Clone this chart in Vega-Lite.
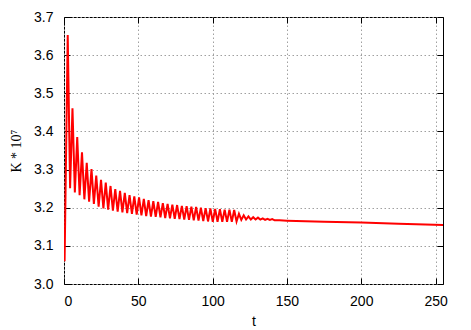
{
  "$schema": "https://vega.github.io/schema/vega-lite/v6.json",
  "autosize": {"type": "none"},
  "padding": {"left": 64, "top": 17, "right": 28, "bottom": 46},
  "width": 379,
  "height": 267,
  "config": {
    "view": {"stroke": "#000000", "strokeWidth": 1},
    "axis": {
      "domain": false,
      "tickColor": "#000000",
      "tickWidth": 1,
      "tickSize": -6,
      "labelFont": "Liberation Sans",
      "labelFontSize": 14,
      "labelColor": "#000000",
      "titleFontWeight": "normal",
      "titleColor": "#000000",
      "gridColor": "#a0a0a0",
      "gridDash": [1.5, 2.5],
      "gridWidth": 1,
      "gridOpacity": 1
    }
  },
  "data": {
    "values": [
      {"t": 0, "K": 3.14}, {"t": 0.4, "K": 3.06},
      {"t": 2.5, "K": 3.653}, {"t": 4.1, "K": 3.251},
      {"t": 5.7, "K": 3.461}, {"t": 7.3, "K": 3.24},
      {"t": 8.9, "K": 3.385}, {"t": 10.5, "K": 3.233},
      {"t": 12.1, "K": 3.345}, {"t": 13.7, "K": 3.222},
      {"t": 15.3, "K": 3.318}, {"t": 16.9, "K": 3.216},
      {"t": 18.5, "K": 3.301}, {"t": 20.1, "K": 3.21},
      {"t": 21.7, "K": 3.284}, {"t": 23.3, "K": 3.203},
      {"t": 24.9, "K": 3.273}, {"t": 26.5, "K": 3.198},
      {"t": 28.1, "K": 3.266}, {"t": 29.7, "K": 3.195},
      {"t": 31.3, "K": 3.257}, {"t": 32.9, "K": 3.192},
      {"t": 34.5, "K": 3.249}, {"t": 36.1, "K": 3.19},
      {"t": 37.7, "K": 3.244}, {"t": 39.3, "K": 3.188},
      {"t": 40.9, "K": 3.239}, {"t": 42.5, "K": 3.186},
      {"t": 44.1, "K": 3.233}, {"t": 45.7, "K": 3.184},
      {"t": 47.3, "K": 3.23}, {"t": 48.9, "K": 3.182},
      {"t": 50.5, "K": 3.227}, {"t": 52.1, "K": 3.18},
      {"t": 53.7, "K": 3.223}, {"t": 55.3, "K": 3.178},
      {"t": 56.9, "K": 3.22}, {"t": 58.5, "K": 3.177},
      {"t": 60.1, "K": 3.217}, {"t": 61.7, "K": 3.176},
      {"t": 63.3, "K": 3.215}, {"t": 64.9, "K": 3.175},
      {"t": 66.5, "K": 3.212}, {"t": 68.1, "K": 3.173},
      {"t": 69.7, "K": 3.21}, {"t": 71.3, "K": 3.172},
      {"t": 72.9, "K": 3.208}, {"t": 74.5, "K": 3.171},
      {"t": 76.1, "K": 3.207}, {"t": 77.7, "K": 3.17},
      {"t": 79.3, "K": 3.205}, {"t": 80.9, "K": 3.169},
      {"t": 82.5, "K": 3.204}, {"t": 84.1, "K": 3.168},
      {"t": 85.7, "K": 3.203}, {"t": 87.3, "K": 3.167},
      {"t": 88.9, "K": 3.202}, {"t": 90.5, "K": 3.166},
      {"t": 92.1, "K": 3.2}, {"t": 93.7, "K": 3.165},
      {"t": 95.3, "K": 3.199}, {"t": 96.9, "K": 3.164},
      {"t": 98.5, "K": 3.198}, {"t": 100.1, "K": 3.163},
      {"t": 101.7, "K": 3.197}, {"t": 103.3, "K": 3.163},
      {"t": 104.9, "K": 3.196}, {"t": 106.5, "K": 3.163},
      {"t": 108.1, "K": 3.195}, {"t": 109.7, "K": 3.163},
      {"t": 111.3, "K": 3.195}, {"t": 112.9, "K": 3.163},
      {"t": 114.5, "K": 3.194}, {"t": 116.1, "K": 3.164},
      {"t": 117.7, "K": 3.184}, {"t": 119.3, "K": 3.168},
      {"t": 120.9, "K": 3.18}, {"t": 122.5, "K": 3.169},
      {"t": 124.1, "K": 3.177}, {"t": 125.7, "K": 3.169},
      {"t": 127.3, "K": 3.175}, {"t": 128.9, "K": 3.169},
      {"t": 130.5, "K": 3.174}, {"t": 132.1, "K": 3.169},
      {"t": 133.7, "K": 3.172}, {"t": 135.3, "K": 3.168},
      {"t": 136.9, "K": 3.171}, {"t": 138.5, "K": 3.168},
      {"t": 140.1, "K": 3.17}, {"t": 141.7, "K": 3.167},
      {"t": 145, "K": 3.167}, {"t": 150, "K": 3.166},
      {"t": 175, "K": 3.163}, {"t": 200, "K": 3.161},
      {"t": 225, "K": 3.158}, {"t": 255, "K": 3.155}
    ]
  },
  "layer": [
    {
      "mark": {"type": "line", "color": "#ff0000", "strokeWidth": 2, "clip": true},
      "encoding": {
        "x": {
          "field": "t", "type": "quantitative",
          "scale": {"domain": [0, 255], "nice": false, "zero": false},
          "axis": {
            "orient": "bottom", "values": [0, 50, 100, 150, 200, 250],
            "grid": true, "labelPadding": 16,
            "title": "t", "titleFont": "Liberation Sans", "titleFontSize": 14, "titlePadding": 6
          }
        },
        "y": {
          "field": "K", "type": "quantitative",
          "scale": {"domain": [3.0, 3.7], "nice": false, "zero": false},
          "axis": {
            "orient": "left", "values": [3.0, 3.1, 3.2, 3.3, 3.4, 3.5, 3.6, 3.7],
            "format": ".1f", "grid": true, "labelPadding": 17,
            "title": "K * 10⁷", "titleFont": "Liberation Serif", "titleFontSize": 14, "titlePadding": 10
          }
        }
      }
    },
    {
      "mark": {"type": "line", "opacity": 0},
      "encoding": {
        "x": {
          "field": "t", "type": "quantitative",
          "axis": {"orient": "top", "values": [0, 50, 100, 150, 200, 250], "labels": false, "grid": false, "title": null}
        },
        "y": {
          "field": "K", "type": "quantitative",
          "axis": {"orient": "right", "values": [3.0, 3.1, 3.2, 3.3, 3.4, 3.5, 3.6, 3.7], "labels": false, "grid": false, "title": null}
        }
      }
    }
  ],
  "resolve": {"axis": {"x": "independent", "y": "independent"}}
}
